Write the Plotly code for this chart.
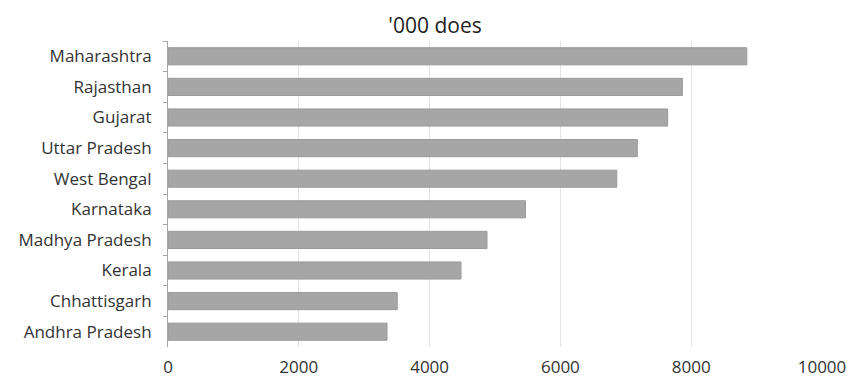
import plotly.graph_objects as go

states = ["Maharashtra", "Rajasthan", "Gujarat", "Uttar Pradesh", "West Bengal",
          "Karnataka", "Madhya Pradesh", "Kerala", "Chhattisgarh", "Andhra Pradesh"]
doses = [8850, 7865, 7640, 7176, 6862, 5466, 4878, 4480, 3505, 3349]
x_ticks = [0, 2000, 4000, 6000, 8000, 10000]
x_tick_labels = ["0", "2000", "4000", "6000", "8000", "10000"]

fig = go.Figure(go.Bar(
    x=doses, y=states, orientation="h",
    marker=dict(color="#a6a6a6", line=dict(color="#9a9a9a", width=1)),
))

font_family = "Open Sans"
fig.update_layout(
    width=848, height=378,
    margin=dict(l=168, r=26, t=41, b=31),
    paper_bgcolor="white", plot_bgcolor="white",
    bargap=0.44,
    showlegend=False,
    font=dict(family=font_family, size=17, color="#333333"),
    title=dict(text="'000 does", x=0.513, xanchor="center", y=1 - 26 / 378, yanchor="middle",
               font=dict(family=font_family, size=21, color="#222222")),
    xaxis=dict(range=[0, 10000], tickvals=x_ticks, ticktext=x_tick_labels, showgrid=True,
               gridcolor="#e3e3e3", gridwidth=1, zeroline=False, showline=False, ticks="",
               ticklabelstandoff=8, tickfont=dict(size=17), automargin=False),
    yaxis=dict(autorange="reversed", showline=True, linecolor="#a6a6a6", linewidth=1,
               ticks="outside", tickson="boundaries", ticklen=4, tickcolor="#a6a6a6",
               showgrid=False, ticklabelstandoff=12, tickfont=dict(size=17), automargin=False),
)

fig.write_html("out.html")
